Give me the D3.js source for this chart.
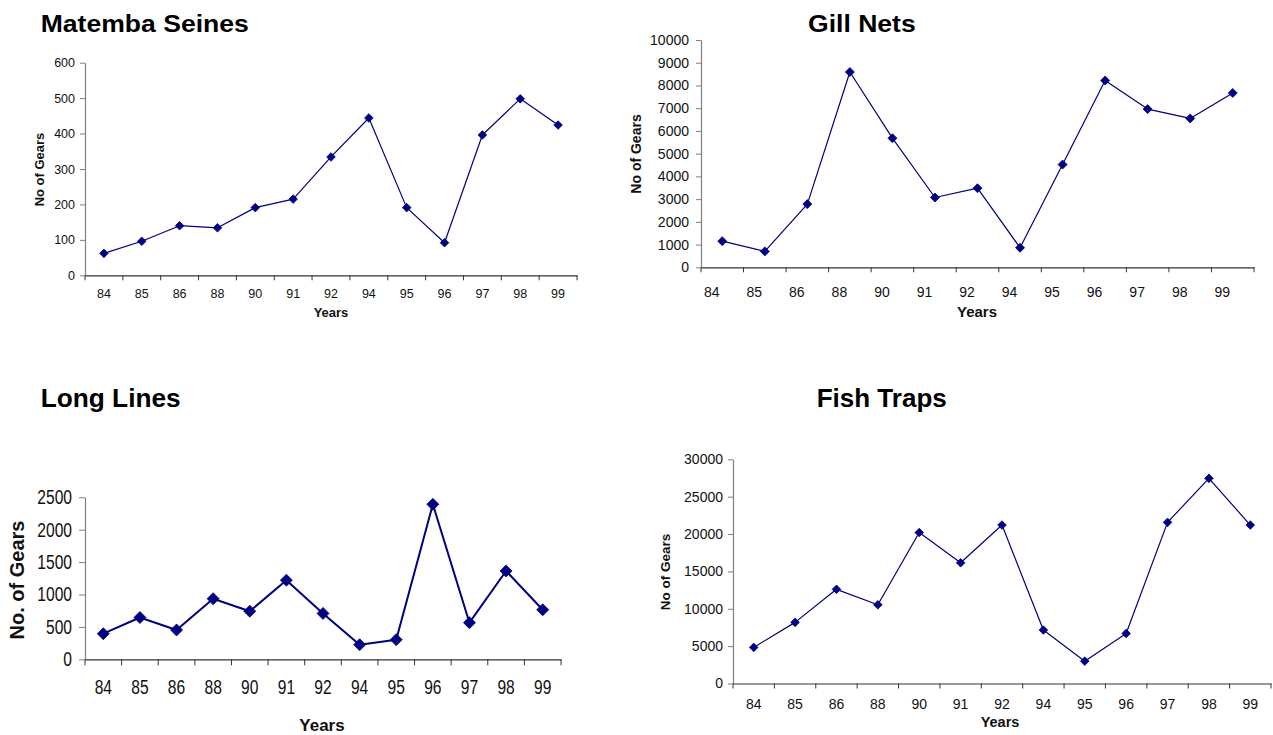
<!DOCTYPE html>
<html>
<head>
<meta charset="utf-8">
<script src="https://cdn.jsdelivr.net/npm/d3@7"></script>
<style>
  html, body { margin: 0; padding: 0; background: #fff; }
  svg { display: block; font-family: "Liberation Sans", Arial, Helvetica, sans-serif; }
</style>
</head>
<body>
<svg id="chart" width="1273" height="735"></svg>
<script>
// ---- data ----
const years = ["84", "85", "86", "88", "90", "91", "92", "94", "95", "96", "97", "98", "99"];
const matembaSeines = [62, 96, 140, 134, 191, 215, 334, 444, 191, 92, 396, 498, 424];
const gillNets = [1150, 700, 2780, 8590, 5680, 3070, 3480, 860, 4520, 8220, 6960, 6550, 7670];
const longLines = [395, 645, 452, 935, 742, 1221, 708, 225, 303, 2392, 565, 1363, 764];
const fishTraps = [4830, 8180, 12600, 10530, 20200, 16150, 21200, 7150, 2990, 6700, 21560, 27450, 21200];

const matembaTicks = [0, 100, 200, 300, 400, 500, 600];
const gillTicks = [0, 1000, 2000, 3000, 4000, 5000, 6000, 7000, 8000, 9000, 10000];
const longTicks = [0, 500, 1000, 1500, 2000, 2500];
const fishTicks = [0, 5000, 10000, 15000, 20000, 25000, 30000];

const titles = ["Matemba Seines", "Gill Nets", "Long Lines", "Fish Traps"];
const yTitles = ["No of Gears", "No of Gears", "No. of Gears", "No of Gears"];
const xTitle = "Years";

// ---- layout ----
const panels = [
  { title: titles[0], values: matembaSeines, ticks: matembaTicks, yTitle: yTitles[0],
    x0: 85, x1: 577, yTop: 62.7, yBot: 275.3,
    titleX: 40.7, titleY: 31.7, titleSize: 23.5, titleSx: 1.13,
    tickFont: 12.5, tickSx: 1, xLabelDy: 23.2, xLabelDx: 0, yPad: 5, tickLen: 5,
    yTitleX: 44, yTitleY: 169.5, yTitleSize: 13,
    xTitleX: 331, xTitleY: 317, xTitleSize: 13,
    r: 4.3, lw: 1.2 },
  { title: titles[1], values: gillNets, ticks: gillTicks, yTitle: yTitles[1],
    x0: 701, x1: 1254, yTop: 40, yBot: 267.3,
    titleX: 808, titleY: 31.7, titleSize: 23.5, titleSx: 1.13,
    tickFont: 14, tickSx: 1, xLabelDy: 29.4, xLabelDx: -10.5, yPad: 7, tickLen: 5,
    yTitleX: 641, yTitleY: 154, yTitleSize: 14,
    xTitleX: 977, xTitleY: 316.7, xTitleSize: 15,
    r: 4.5, lw: 1.2 },
  { title: titles[2], values: longLines, ticks: longTicks, yTitle: yTitles[2],
    x0: 85, x1: 561, yTop: 497.3, yBot: 659.3,
    titleX: 40.7, titleY: 407.3, titleSize: 25, titleSx: 1.05,
    tickFont: 20, tickSx: 0.78, xLabelDy: 34.8, xLabelDx: 0, yPad: 7, tickLen: 6,
    yTitleX: 24, yTitleY: 580, yTitleSize: 20,
    xTitleX: 322, xTitleY: 731, xTitleSize: 17,
    r: 6, lw: 2 },
  { title: titles[3], values: fishTraps, ticks: fishTicks, yTitle: yTitles[3],
    x0: 733, x1: 1271, yTop: 459.3, yBot: 683.5,
    titleX: 816.7, titleY: 407.3, titleSize: 25, titleSx: 1.04,
    tickFont: 14, tickSx: 1, xLabelDy: 25, xLabelDx: 0, yPad: 5, tickLen: 5,
    yTitleX: 670, yTitleY: 572, yTitleSize: 13.5,
    xTitleX: 1000, xTitleY: 726.7, xTitleSize: 14.5,
    r: 4.3, lw: 1.2 }
];

const svg = d3.select("#chart");
const LINE = "#000080";

function stretch(sel, sx) {
  if (sx === 1) return;
  sel.each(function () {
    const w = this.getComputedTextLength();
    d3.select(this).attr("textLength", w * sx).attr("lengthAdjust", "spacingAndGlyphs");
  });
}

panels.forEach(p => {
  const g = svg.append("g");
  const x = d3.scaleBand().domain(years).range([p.x0, p.x1]).padding(0);
  const yMax = d3.max(p.ticks);
  const y = d3.scaleLinear().domain([0, yMax]).range([p.yBot, p.yTop]);

  // title
  const t = g.append("text").attr("x", p.titleX).attr("y", p.titleY)
    .attr("font-size", p.titleSize).attr("font-weight", "bold").attr("fill", "#000")
    .text(p.title);
  stretch(t, p.titleSx);

  // y axis
  const ya = g.append("g").attr("transform", `translate(${p.x0},0)`)
    .call(d3.axisLeft(y).tickValues(p.ticks).tickFormat(d3.format("d"))
      .tickSize(p.tickLen).tickSizeOuter(0).tickPadding(p.yPad));
  ya.select(".domain").attr("stroke", "#808080").attr("stroke-width", 1.2);
  ya.selectAll(".tick line").attr("stroke", "#808080");
  ya.selectAll(".tick text").attr("font-size", p.tickFont).attr("fill", "#111")
    .attr("font-family", "'Liberation Sans', Arial, sans-serif");
  stretch(ya.selectAll(".tick text"), p.tickSx);

  // x axis (labels centred in categories, ticks at boundaries)
  const xa = g.append("g").attr("transform", `translate(0,${p.yBot})`)
    .call(d3.axisBottom(x).tickSize(0).tickSizeOuter(0));
  xa.select(".domain").attr("stroke", "#333").attr("stroke-width", 1.2);
  xa.selectAll(".tick text").attr("font-size", p.tickFont).attr("fill", "#111")
    .attr("font-family", "'Liberation Sans', Arial, sans-serif")
    .attr("dy", 0).attr("y", p.xLabelDy).attr("x", p.xLabelDx);
  stretch(xa.selectAll(".tick text"), p.tickSx);
  const bounds = d3.range(years.length + 1).map(i => p.x0 + i * x.step());
  xa.selectAll(".btick").data(bounds).join("line").attr("class", "btick")
    .attr("x1", d => d).attr("x2", d => d).attr("y1", 0).attr("y2", p.tickLen)
    .attr("stroke", "#333").attr("stroke-width", 1);

  // axis titles
  g.append("text")
    .attr("transform", `translate(${p.yTitleX},${p.yTitleY}) rotate(-90)`)
    .attr("text-anchor", "middle").attr("font-size", p.yTitleSize).attr("font-weight", "bold")
    .attr("fill", "#111").text(p.yTitle);
  g.append("text").attr("x", p.xTitleX).attr("y", p.xTitleY)
    .attr("text-anchor", "middle").attr("font-size", p.xTitleSize).attr("font-weight", "bold")
    .attr("fill", "#111").text(xTitle);

  // series
  const pts = years.map((yr, i) => ({ yr, v: p.values[i] }));
  const line = d3.line().x(d => x(d.yr) + x.bandwidth() / 2).y(d => y(d.v));
  g.append("path").datum(pts).attr("d", line).attr("fill", "none")
    .attr("stroke", LINE).attr("stroke-width", p.lw).attr("stroke-linejoin", "round");
  const r = p.r;
  g.selectAll(".mk").data(pts).join("path").attr("class", "mk")
    .attr("transform", d => `translate(${x(d.yr) + x.bandwidth() / 2},${y(d.v)})`)
    .attr("d", `M0,${-r}L${r},0L0,${r}L${-r},0Z`)
    .attr("fill", LINE).attr("stroke", LINE).attr("stroke-width", 0.8);
});
</script>
</body>
</html>
